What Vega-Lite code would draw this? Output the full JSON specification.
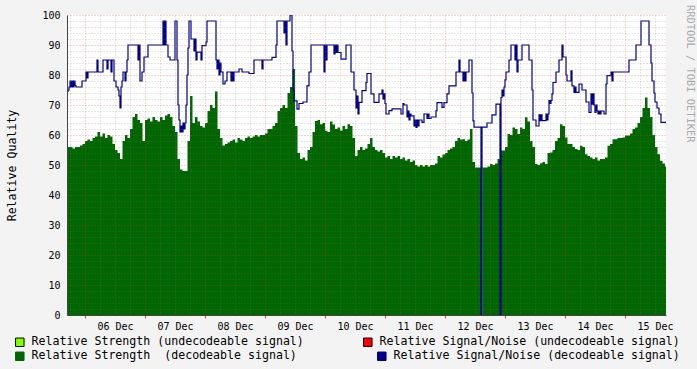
{
 "$schema": "https://vega.github.io/schema/vega-lite/v6.json",
 "width": 599,
 "height": 300,
 "autosize": {"type": "none"},
 "padding": {"left": 67, "top": 15, "right": 31, "bottom": 54},
 "background": "#f3f3f3",
 "view": {"fill": "#ffffff", "stroke": null},
 "config": {"font": "DejaVu Sans Mono"},
 "title": {"text": "RRDTOOL / TOBI OETIKER", "orient": "right", "anchor": "start", "frame": "group", "offset": 5, "dx": -10, "font": "DejaVu Sans Mono", "fontSize": 10.4, "fontWeight": "normal", "color": "#aaaaaa"},
 "datasets": {
  "strength": [
   {"t":"2023-12-05T16:48Z","v":56},{"t":"2023-12-05T17:00Z","v":56},{"t":"2023-12-05T18:00Z","v":56},{"t":"2023-12-05T19:00Z","v":55.5},{"t":"2023-12-05T20:00Z","v":56},{"t":"2023-12-05T21:00Z","v":56},{"t":"2023-12-05T22:00Z","v":56.5},{"t":"2023-12-05T23:00Z","v":57},
   {"t":"2023-12-06T00:00Z","v":58},{"t":"2023-12-06T01:00Z","v":58.5},{"t":"2023-12-06T02:00Z","v":58},{"t":"2023-12-06T03:00Z","v":59},{"t":"2023-12-06T04:00Z","v":59.5},{"t":"2023-12-06T05:00Z","v":61},{"t":"2023-12-06T06:00Z","v":59.5},{"t":"2023-12-06T07:00Z","v":60.5},{"t":"2023-12-06T08:00Z","v":59},{"t":"2023-12-06T09:00Z","v":60},{"t":"2023-12-06T10:00Z","v":59.5},{"t":"2023-12-06T11:00Z","v":57},{"t":"2023-12-06T12:00Z","v":55},{"t":"2023-12-06T13:00Z","v":54},{"t":"2023-12-06T14:00Z","v":52},{"t":"2023-12-06T15:00Z","v":58},{"t":"2023-12-06T16:00Z","v":60},{"t":"2023-12-06T17:00Z","v":59},{"t":"2023-12-06T18:00Z","v":62},{"t":"2023-12-06T19:00Z","v":66},{"t":"2023-12-06T20:00Z","v":67},{"t":"2023-12-06T21:00Z","v":65},{"t":"2023-12-06T22:00Z","v":64},{"t":"2023-12-06T23:00Z","v":58},
   {"t":"2023-12-07T00:00Z","v":65},{"t":"2023-12-07T01:00Z","v":65.5},{"t":"2023-12-07T02:00Z","v":64.5},{"t":"2023-12-07T03:00Z","v":66},{"t":"2023-12-07T04:00Z","v":65},{"t":"2023-12-07T05:00Z","v":64.5},{"t":"2023-12-07T06:00Z","v":66},{"t":"2023-12-07T07:00Z","v":65},{"t":"2023-12-07T08:00Z","v":66.5},{"t":"2023-12-07T09:00Z","v":67},{"t":"2023-12-07T10:00Z","v":66},{"t":"2023-12-07T11:00Z","v":63},{"t":"2023-12-07T12:00Z","v":61},{"t":"2023-12-07T13:00Z","v":52},{"t":"2023-12-07T14:00Z","v":48.5},{"t":"2023-12-07T15:00Z","v":48},{"t":"2023-12-07T16:00Z","v":48},{"t":"2023-12-07T17:00Z","v":58},{"t":"2023-12-07T18:00Z","v":73},{"t":"2023-12-07T19:00Z","v":64},{"t":"2023-12-07T20:00Z","v":66},{"t":"2023-12-07T21:00Z","v":64.5},{"t":"2023-12-07T22:00Z","v":63},{"t":"2023-12-07T23:00Z","v":62.5},
   {"t":"2023-12-08T00:00Z","v":64},{"t":"2023-12-08T01:00Z","v":68},{"t":"2023-12-08T02:00Z","v":70},{"t":"2023-12-08T03:00Z","v":69},{"t":"2023-12-08T04:00Z","v":74.5},{"t":"2023-12-08T05:00Z","v":62},{"t":"2023-12-08T06:00Z","v":59},{"t":"2023-12-08T07:00Z","v":56.5},{"t":"2023-12-08T08:00Z","v":57},{"t":"2023-12-08T09:00Z","v":57.5},{"t":"2023-12-08T10:00Z","v":58},{"t":"2023-12-08T11:00Z","v":58.5},{"t":"2023-12-08T12:00Z","v":57.5},{"t":"2023-12-08T13:00Z","v":59},{"t":"2023-12-08T14:00Z","v":58.5},{"t":"2023-12-08T15:00Z","v":58},{"t":"2023-12-08T16:00Z","v":59},{"t":"2023-12-08T17:00Z","v":59.5},{"t":"2023-12-08T18:00Z","v":59},{"t":"2023-12-08T19:00Z","v":59.5},{"t":"2023-12-08T20:00Z","v":60},{"t":"2023-12-08T21:00Z","v":59.5},{"t":"2023-12-08T22:00Z","v":60},{"t":"2023-12-08T23:00Z","v":60},
   {"t":"2023-12-09T00:00Z","v":60.5},{"t":"2023-12-09T01:00Z","v":62},{"t":"2023-12-09T02:00Z","v":62},{"t":"2023-12-09T03:00Z","v":63},{"t":"2023-12-09T04:00Z","v":64},{"t":"2023-12-09T05:00Z","v":68},{"t":"2023-12-09T06:00Z","v":69},{"t":"2023-12-09T07:00Z","v":70},{"t":"2023-12-09T08:00Z","v":69},{"t":"2023-12-09T09:00Z","v":74},{"t":"2023-12-09T10:00Z","v":76},{"t":"2023-12-09T11:00Z","v":82},{"t":"2023-12-09T12:00Z","v":63},{"t":"2023-12-09T13:00Z","v":54},{"t":"2023-12-09T14:00Z","v":52},{"t":"2023-12-09T15:00Z","v":52.5},{"t":"2023-12-09T16:00Z","v":51.5},{"t":"2023-12-09T17:00Z","v":55},{"t":"2023-12-09T18:00Z","v":56},{"t":"2023-12-09T19:00Z","v":61},{"t":"2023-12-09T20:00Z","v":64.7},{"t":"2023-12-09T21:00Z","v":65},{"t":"2023-12-09T22:00Z","v":63.6},{"t":"2023-12-09T23:00Z","v":64},
   {"t":"2023-12-10T00:00Z","v":61.4},{"t":"2023-12-10T01:00Z","v":61},{"t":"2023-12-10T02:00Z","v":64.5},{"t":"2023-12-10T03:00Z","v":63.5},{"t":"2023-12-10T04:00Z","v":62},{"t":"2023-12-10T05:00Z","v":62.5},{"t":"2023-12-10T06:00Z","v":61.5},{"t":"2023-12-10T07:00Z","v":63},{"t":"2023-12-10T08:00Z","v":62},{"t":"2023-12-10T09:00Z","v":63.6},{"t":"2023-12-10T10:00Z","v":63},{"t":"2023-12-10T11:00Z","v":59},{"t":"2023-12-10T12:00Z","v":53},{"t":"2023-12-10T13:00Z","v":55},{"t":"2023-12-10T14:00Z","v":56},{"t":"2023-12-10T15:00Z","v":55},{"t":"2023-12-10T16:00Z","v":55.5},{"t":"2023-12-10T17:00Z","v":57},{"t":"2023-12-10T18:00Z","v":59},{"t":"2023-12-10T19:00Z","v":56},{"t":"2023-12-10T20:00Z","v":55},{"t":"2023-12-10T21:00Z","v":54.5},{"t":"2023-12-10T22:00Z","v":55},{"t":"2023-12-10T23:00Z","v":54},
   {"t":"2023-12-11T00:00Z","v":52.5},{"t":"2023-12-11T01:00Z","v":53},{"t":"2023-12-11T02:00Z","v":52},{"t":"2023-12-11T03:00Z","v":53},{"t":"2023-12-11T04:00Z","v":52.5},{"t":"2023-12-11T05:00Z","v":53},{"t":"2023-12-11T06:00Z","v":52},{"t":"2023-12-11T07:00Z","v":52.5},{"t":"2023-12-11T08:00Z","v":51.5},{"t":"2023-12-11T09:00Z","v":52},{"t":"2023-12-11T10:00Z","v":51},{"t":"2023-12-11T11:00Z","v":51.5},{"t":"2023-12-11T12:00Z","v":50},{"t":"2023-12-11T13:00Z","v":49.5},{"t":"2023-12-11T14:00Z","v":50},{"t":"2023-12-11T15:00Z","v":49.5},{"t":"2023-12-11T16:00Z","v":50},{"t":"2023-12-11T17:00Z","v":49.5},{"t":"2023-12-11T18:00Z","v":50},{"t":"2023-12-11T19:00Z","v":50},{"t":"2023-12-11T20:00Z","v":50.5},{"t":"2023-12-11T21:00Z","v":53},{"t":"2023-12-11T22:00Z","v":52.5},{"t":"2023-12-11T23:00Z","v":53.5},
   {"t":"2023-12-12T00:00Z","v":54},{"t":"2023-12-12T01:00Z","v":55},{"t":"2023-12-12T02:00Z","v":55.5},{"t":"2023-12-12T03:00Z","v":56},{"t":"2023-12-12T04:00Z","v":58},{"t":"2023-12-12T05:00Z","v":59},{"t":"2023-12-12T06:00Z","v":58.5},{"t":"2023-12-12T07:00Z","v":58.6},{"t":"2023-12-12T08:00Z","v":58},{"t":"2023-12-12T09:00Z","v":58.5},{"t":"2023-12-12T10:00Z","v":62},{"t":"2023-12-12T11:00Z","v":51},{"t":"2023-12-12T12:00Z","v":49.2},{"t":"2023-12-12T13:00Z","v":49.2},{"t":"2023-12-12T14:00Z","v":49.2},{"t":"2023-12-12T14:24Z","v":0},{"t":"2023-12-12T15:00Z","v":49.2},{"t":"2023-12-12T16:00Z","v":49.2},{"t":"2023-12-12T17:00Z","v":49.5},{"t":"2023-12-12T18:00Z","v":50.3},{"t":"2023-12-12T19:00Z","v":50},{"t":"2023-12-12T20:00Z","v":50.5},{"t":"2023-12-12T21:00Z","v":52},{"t":"2023-12-12T22:00Z","v":0},{"t":"2023-12-12T22:24Z","v":54.8},{"t":"2023-12-12T23:00Z","v":54.8},
   {"t":"2023-12-13T00:00Z","v":56},{"t":"2023-12-13T01:00Z","v":60.3},{"t":"2023-12-13T02:00Z","v":60},{"t":"2023-12-13T03:00Z","v":62.5},{"t":"2023-12-13T04:00Z","v":62},{"t":"2023-12-13T05:00Z","v":60.3},{"t":"2023-12-13T06:00Z","v":62.5},{"t":"2023-12-13T07:00Z","v":62},{"t":"2023-12-13T08:00Z","v":65.9},{"t":"2023-12-13T09:00Z","v":64.5},{"t":"2023-12-13T10:00Z","v":58},{"t":"2023-12-13T11:00Z","v":56},{"t":"2023-12-13T12:00Z","v":50.3},{"t":"2023-12-13T13:00Z","v":50},{"t":"2023-12-13T14:00Z","v":50.6},{"t":"2023-12-13T15:00Z","v":51},{"t":"2023-12-13T16:00Z","v":50.3},{"t":"2023-12-13T17:00Z","v":54},{"t":"2023-12-13T18:00Z","v":54.2},{"t":"2023-12-13T19:00Z","v":55},{"t":"2023-12-13T20:00Z","v":58},{"t":"2023-12-13T21:00Z","v":59},{"t":"2023-12-13T22:00Z","v":63.6},{"t":"2023-12-13T23:00Z","v":63},
   {"t":"2023-12-14T00:00Z","v":59.2},{"t":"2023-12-14T01:00Z","v":57},{"t":"2023-12-14T02:00Z","v":57},{"t":"2023-12-14T03:00Z","v":56},{"t":"2023-12-14T04:00Z","v":55.3},{"t":"2023-12-14T05:00Z","v":55},{"t":"2023-12-14T06:00Z","v":56.4},{"t":"2023-12-14T07:00Z","v":56},{"t":"2023-12-14T08:00Z","v":53.6},{"t":"2023-12-14T09:00Z","v":53},{"t":"2023-12-14T10:00Z","v":52.5},{"t":"2023-12-14T11:00Z","v":52},{"t":"2023-12-14T12:00Z","v":52.5},{"t":"2023-12-14T13:00Z","v":51.5},{"t":"2023-12-14T14:00Z","v":52},{"t":"2023-12-14T15:00Z","v":52},{"t":"2023-12-14T16:00Z","v":52.5},{"t":"2023-12-14T17:00Z","v":56.4},{"t":"2023-12-14T18:00Z","v":57},{"t":"2023-12-14T19:00Z","v":58.6},{"t":"2023-12-14T20:00Z","v":58.6},{"t":"2023-12-14T21:00Z","v":59},{"t":"2023-12-14T22:00Z","v":59},{"t":"2023-12-14T23:00Z","v":59.2},
   {"t":"2023-12-15T00:00Z","v":59.8},{"t":"2023-12-15T01:00Z","v":59.8},{"t":"2023-12-15T02:00Z","v":60.5},{"t":"2023-12-15T03:00Z","v":62},{"t":"2023-12-15T04:00Z","v":62.5},{"t":"2023-12-15T05:00Z","v":64},{"t":"2023-12-15T06:00Z","v":66},{"t":"2023-12-15T07:00Z","v":69},{"t":"2023-12-15T08:00Z","v":72.5},{"t":"2023-12-15T09:00Z","v":69},{"t":"2023-12-15T10:00Z","v":66},{"t":"2023-12-15T11:00Z","v":60},{"t":"2023-12-15T12:00Z","v":56},{"t":"2023-12-15T13:00Z","v":53.6},{"t":"2023-12-15T14:00Z","v":51.4},{"t":"2023-12-15T15:00Z","v":50.5},{"t":"2023-12-15T16:00Z","v":49.5},{"t":"2023-12-15T16:24Z","v":49.5}
  ],
  "snr": [
   {"t":"2023-12-05T16:48Z","v":74.5},{"t":"2023-12-05T17:12Z","v":75},{"t":"2023-12-05T17:36Z","v":76},{"t":"2023-12-05T18:00Z","v":78},{"t":"2023-12-05T18:24Z","v":76},{"t":"2023-12-05T18:48Z","v":78},{"t":"2023-12-05T19:12Z","v":76},{"t":"2023-12-05T19:36Z","v":78},{"t":"2023-12-05T20:00Z","v":76.5},{"t":"2023-12-05T20:24Z","v":76},{"t":"2023-12-05T22:48Z","v":78},
   {"t":"2023-12-06T00:24Z","v":81},{"t":"2023-12-06T00:48Z","v":79},{"t":"2023-12-06T01:12Z","v":81},{"t":"2023-12-06T04:48Z","v":85},{"t":"2023-12-06T05:12Z","v":81},{"t":"2023-12-06T07:12Z","v":85},{"t":"2023-12-06T08:48Z","v":82},{"t":"2023-12-06T09:12Z","v":85},{"t":"2023-12-06T10:24Z","v":81},{"t":"2023-12-06T10:48Z","v":85},{"t":"2023-12-06T11:36Z","v":78},{"t":"2023-12-06T12:24Z","v":76},{"t":"2023-12-06T13:12Z","v":75},{"t":"2023-12-06T13:36Z","v":73},{"t":"2023-12-06T14:00Z","v":69},{"t":"2023-12-06T14:24Z","v":76},{"t":"2023-12-06T14:48Z","v":78},{"t":"2023-12-06T15:12Z","v":81},{"t":"2023-12-06T16:00Z","v":78},{"t":"2023-12-06T16:24Z","v":81},{"t":"2023-12-06T16:48Z","v":85},{"t":"2023-12-06T17:12Z","v":90},{"t":"2023-12-06T21:12Z","v":85},{"t":"2023-12-06T21:36Z","v":90},{"t":"2023-12-06T22:00Z","v":78},{"t":"2023-12-06T22:48Z","v":81},{"t":"2023-12-06T23:36Z","v":86},
   {"t":"2023-12-07T01:12Z","v":90},{"t":"2023-12-07T07:12Z","v":98},{"t":"2023-12-07T07:36Z","v":90},{"t":"2023-12-07T08:00Z","v":98},{"t":"2023-12-07T08:24Z","v":90},{"t":"2023-12-07T09:12Z","v":86},{"t":"2023-12-07T10:00Z","v":85},{"t":"2023-12-07T12:00Z","v":98},{"t":"2023-12-07T12:48Z","v":85},{"t":"2023-12-07T13:12Z","v":70},{"t":"2023-12-07T13:36Z","v":65},{"t":"2023-12-07T14:00Z","v":61},{"t":"2023-12-07T14:24Z","v":63},{"t":"2023-12-07T14:48Z","v":61},{"t":"2023-12-07T15:12Z","v":64},{"t":"2023-12-07T15:36Z","v":62},{"t":"2023-12-07T16:00Z","v":64},{"t":"2023-12-07T16:24Z","v":70},{"t":"2023-12-07T16:48Z","v":80},{"t":"2023-12-07T17:12Z","v":89},{"t":"2023-12-07T17:36Z","v":98},{"t":"2023-12-07T18:24Z","v":92},{"t":"2023-12-07T19:36Z","v":88},{"t":"2023-12-07T20:00Z","v":92},{"t":"2023-12-07T20:24Z","v":85},{"t":"2023-12-07T20:48Z","v":87.6},{"t":"2023-12-07T22:24Z","v":85},{"t":"2023-12-07T22:48Z","v":89.8},
   {"t":"2023-12-08T00:24Z","v":91},{"t":"2023-12-08T00:48Z","v":98},{"t":"2023-12-08T04:24Z","v":85},{"t":"2023-12-08T04:48Z","v":82},{"t":"2023-12-08T05:12Z","v":85},{"t":"2023-12-08T05:36Z","v":80},{"t":"2023-12-08T06:00Z","v":84},{"t":"2023-12-08T06:24Z","v":81},{"t":"2023-12-08T07:12Z","v":77},{"t":"2023-12-08T08:00Z","v":78},{"t":"2023-12-08T08:48Z","v":81},{"t":"2023-12-08T10:24Z","v":78},{"t":"2023-12-08T10:48Z","v":81},{"t":"2023-12-08T11:12Z","v":78},{"t":"2023-12-08T11:36Z","v":81},{"t":"2023-12-08T13:36Z","v":82},{"t":"2023-12-08T14:48Z","v":81},{"t":"2023-12-08T17:36Z","v":80.5},{"t":"2023-12-08T19:36Z","v":85},{"t":"2023-12-08T22:48Z","v":82},{"t":"2023-12-08T23:12Z","v":85},
   {"t":"2023-12-09T02:48Z","v":85.9},{"t":"2023-12-09T04:24Z","v":90},{"t":"2023-12-09T04:48Z","v":98},{"t":"2023-12-09T07:36Z","v":94},{"t":"2023-12-09T08:00Z","v":98},{"t":"2023-12-09T08:24Z","v":90},{"t":"2023-12-09T08:48Z","v":98},{"t":"2023-12-09T10:00Z","v":100},{"t":"2023-12-09T10:48Z","v":88},{"t":"2023-12-09T11:12Z","v":75},{"t":"2023-12-09T11:36Z","v":71.4},{"t":"2023-12-09T12:48Z","v":68.6},{"t":"2023-12-09T13:36Z","v":70.5},{"t":"2023-12-09T15:12Z","v":71},{"t":"2023-12-09T16:48Z","v":76.4},{"t":"2023-12-09T17:36Z","v":81},{"t":"2023-12-09T18:24Z","v":90},{"t":"2023-12-09T23:36Z","v":81},
   {"t":"2023-12-10T00:00Z","v":90},{"t":"2023-12-10T00:24Z","v":85},{"t":"2023-12-10T00:48Z","v":90},{"t":"2023-12-10T03:36Z","v":87},{"t":"2023-12-10T04:00Z","v":90},{"t":"2023-12-10T04:24Z","v":87.5},{"t":"2023-12-10T04:48Z","v":90},{"t":"2023-12-10T05:12Z","v":87.5},{"t":"2023-12-10T06:24Z","v":85.3},{"t":"2023-12-10T08:24Z","v":90},{"t":"2023-12-10T10:24Z","v":81},{"t":"2023-12-10T11:36Z","v":75},{"t":"2023-12-10T12:24Z","v":69},{"t":"2023-12-10T12:48Z","v":73},{"t":"2023-12-10T13:12Z","v":67},{"t":"2023-12-10T13:36Z","v":70.9},{"t":"2023-12-10T14:48Z","v":74.8},{"t":"2023-12-10T16:24Z","v":77.5},{"t":"2023-12-10T16:48Z","v":80.5},{"t":"2023-12-10T18:24Z","v":73.7},{"t":"2023-12-10T19:36Z","v":70.9},{"t":"2023-12-10T21:36Z","v":73.7},{"t":"2023-12-10T22:48Z","v":75},{"t":"2023-12-10T23:12Z","v":72},{"t":"2023-12-10T23:36Z","v":73.7},
   {"t":"2023-12-11T00:00Z","v":70.5},{"t":"2023-12-11T00:24Z","v":67},{"t":"2023-12-11T01:36Z","v":68.1},{"t":"2023-12-11T02:48Z","v":68.7},{"t":"2023-12-11T06:24Z","v":67},{"t":"2023-12-11T07:12Z","v":70.5},{"t":"2023-12-11T07:36Z","v":70},{"t":"2023-12-11T08:48Z","v":66},{"t":"2023-12-11T09:12Z","v":68},{"t":"2023-12-11T09:36Z","v":65},{"t":"2023-12-11T10:00Z","v":67},{"t":"2023-12-11T10:24Z","v":66.4},{"t":"2023-12-11T11:36Z","v":63},{"t":"2023-12-11T12:00Z","v":65},{"t":"2023-12-11T12:24Z","v":62.5},{"t":"2023-12-11T12:48Z","v":65},{"t":"2023-12-11T13:12Z","v":63},{"t":"2023-12-11T13:36Z","v":65},{"t":"2023-12-11T14:48Z","v":64.2},{"t":"2023-12-11T15:36Z","v":67},{"t":"2023-12-11T16:48Z","v":65.5},{"t":"2023-12-11T17:12Z","v":67},{"t":"2023-12-11T17:36Z","v":65.5},{"t":"2023-12-11T18:24Z","v":66},{"t":"2023-12-11T20:24Z","v":68.1},{"t":"2023-12-11T20:48Z","v":70.8},{"t":"2023-12-11T22:48Z","v":69.2},{"t":"2023-12-11T23:36Z","v":70.8},
   {"t":"2023-12-12T00:48Z","v":73.7},{"t":"2023-12-12T01:36Z","v":76.4},{"t":"2023-12-12T04:24Z","v":81},{"t":"2023-12-12T05:36Z","v":85},{"t":"2023-12-12T06:00Z","v":81},{"t":"2023-12-12T07:12Z","v":78},{"t":"2023-12-12T07:36Z","v":81},{"t":"2023-12-12T08:00Z","v":78},{"t":"2023-12-12T08:24Z","v":81},{"t":"2023-12-12T09:36Z","v":85},{"t":"2023-12-12T10:48Z","v":74},{"t":"2023-12-12T11:12Z","v":64.7},{"t":"2023-12-12T11:36Z","v":62.6},{"t":"2023-12-12T14:24Z","v":0},{"t":"2023-12-12T14:48Z","v":62.6},{"t":"2023-12-12T16:48Z","v":64},{"t":"2023-12-12T18:48Z","v":66.7},{"t":"2023-12-12T20:24Z","v":70.3},{"t":"2023-12-12T22:00Z","v":0},{"t":"2023-12-12T22:24Z","v":72.5},{"t":"2023-12-12T22:48Z","v":75},{"t":"2023-12-12T23:12Z","v":73},{"t":"2023-12-12T23:36Z","v":76},
   {"t":"2023-12-13T00:00Z","v":78.4},{"t":"2023-12-13T00:24Z","v":81},{"t":"2023-12-13T01:36Z","v":85},{"t":"2023-12-13T02:24Z","v":90},{"t":"2023-12-13T04:00Z","v":85},{"t":"2023-12-13T04:24Z","v":90},{"t":"2023-12-13T04:48Z","v":81},{"t":"2023-12-13T05:12Z","v":85},{"t":"2023-12-13T06:48Z","v":90},{"t":"2023-12-13T09:36Z","v":85},{"t":"2023-12-13T10:48Z","v":75},{"t":"2023-12-13T11:12Z","v":65},{"t":"2023-12-13T12:24Z","v":63},{"t":"2023-12-13T13:36Z","v":66.7},{"t":"2023-12-13T14:00Z","v":64.8},{"t":"2023-12-13T14:24Z","v":66.7},{"t":"2023-12-13T14:48Z","v":64.8},{"t":"2023-12-13T16:24Z","v":67},{"t":"2023-12-13T16:48Z","v":65},{"t":"2023-12-13T17:12Z","v":67},{"t":"2023-12-13T17:36Z","v":71.5},{"t":"2023-12-13T18:00Z","v":70.5},{"t":"2023-12-13T18:24Z","v":71.5},{"t":"2023-12-13T18:48Z","v":73.7},{"t":"2023-12-13T19:12Z","v":77.5},{"t":"2023-12-13T20:24Z","v":81},{"t":"2023-12-13T21:36Z","v":85},{"t":"2023-12-13T22:48Z","v":90},{"t":"2023-12-13T23:12Z","v":86},
   {"t":"2023-12-14T00:24Z","v":80},{"t":"2023-12-14T00:48Z","v":78},{"t":"2023-12-14T02:24Z","v":81.4},{"t":"2023-12-14T02:48Z","v":76.4},{"t":"2023-12-14T03:36Z","v":74.2},{"t":"2023-12-14T04:00Z","v":76},{"t":"2023-12-14T04:24Z","v":74.2},{"t":"2023-12-14T05:36Z","v":77},{"t":"2023-12-14T06:48Z","v":75},{"t":"2023-12-14T08:24Z","v":71},{"t":"2023-12-14T09:36Z","v":67.5},{"t":"2023-12-14T10:24Z","v":73.7},{"t":"2023-12-14T10:48Z","v":70.3},{"t":"2023-12-14T11:12Z","v":73.7},{"t":"2023-12-14T11:36Z","v":70},{"t":"2023-12-14T12:00Z","v":67.5},{"t":"2023-12-14T12:24Z","v":70},{"t":"2023-12-14T12:48Z","v":68},{"t":"2023-12-14T13:12Z","v":67},{"t":"2023-12-14T13:36Z","v":68},{"t":"2023-12-14T14:00Z","v":67},{"t":"2023-12-14T14:24Z","v":68},{"t":"2023-12-14T15:36Z","v":67},{"t":"2023-12-14T16:24Z","v":77},{"t":"2023-12-14T16:48Z","v":79.8},{"t":"2023-12-14T18:24Z","v":81},{"t":"2023-12-14T18:48Z","v":78},{"t":"2023-12-14T19:12Z","v":81},
   {"t":"2023-12-15T01:36Z","v":85},{"t":"2023-12-15T04:24Z","v":90},{"t":"2023-12-15T06:24Z","v":98},{"t":"2023-12-15T09:36Z","v":90},{"t":"2023-12-15T10:24Z","v":84},{"t":"2023-12-15T10:48Z","v":78},{"t":"2023-12-15T11:36Z","v":74},{"t":"2023-12-15T12:00Z","v":71},{"t":"2023-12-15T12:48Z","v":69},{"t":"2023-12-15T13:36Z","v":67},{"t":"2023-12-15T14:24Z","v":64.2},{"t":"2023-12-15T16:24Z","v":64.2}
  ]
 },
 "layer": [
  {
   "data": {"name": "strength"},
   "mark": {"type": "area", "interpolate": "step-after", "clip": true},
   "encoding": {
    "x": {"field": "t", "type": "temporal",
     "scale": {"type": "utc", "domain": [1701794880000, 1702657440000], "nice": false},
     "axis": {
      "title": null, "zindex": 1, "tickCount": 200,
      "values": [1701799200000,1701820800000,1701842400000,1701864000000,1701885600000,1701907200000,1701928800000,1701950400000,1701972000000,1701993600000,1702015200000,1702036800000,1702058400000,1702080000000,1702101600000,1702123200000,1702144800000,1702166400000,1702188000000,1702209600000,1702231200000,1702252800000,1702274400000,1702296000000,1702317600000,1702339200000,1702360800000,1702382400000,1702404000000,1702425600000,1702447200000,1702468800000,1702490400000,1702512000000,1702533600000,1702555200000,1702576800000,1702598400000,1702620000000,1702641600000],
      "labelExpr": "utchours(datum.value) == 12 ? utcFormat(datum.value, '%d %b') : ''",
      "labelOverlap": false, "labelFlush": false,
      "labelFont": "DejaVu Sans Mono", "labelFontSize": 10, "labelColor": "#000000", "labelPadding": 3,
      "grid": true, "gridDash": [1, 2],
      "gridColor": {"condition": {"test": "utchours(datum.value) == 0", "value": "rgba(230,60,60,0.45)"}, "value": "rgba(120,120,120,0.35)"},
      "ticks": true, "tickSize": 3,
      "tickColor": {"condition": {"test": "utchours(datum.value) == 0", "value": "#d04040"}, "value": "rgba(0,0,0,0)"},
      "domainColor": "#444444"
     }
    },
    "y": {"field": "v", "type": "quantitative",
     "scale": {"domain": [0, 100], "nice": false},
     "axis": {
      "title": "Relative Quality", "titleFont": "DejaVu Sans Mono", "titleFontSize": 11.6, "titleFontWeight": "normal", "titleColor": "#000000", "titlePadding": 24,
      "zindex": 1, "tickCount": 200, "format": "d",
      "values": [0,2,4,6,8,10,12,14,16,18,20,22,24,26,28,30,32,34,36,38,40,42,44,46,48,50,52,54,56,58,60,62,64,66,68,70,72,74,76,78,80,82,84,86,88,90,92,94,96,98,100],
      "labelExpr": "datum.value % 10 == 0 ? datum.label : ''",
      "labelOverlap": false, "labelFlush": false,
      "labelFont": "DejaVu Sans Mono", "labelFontSize": 10, "labelColor": "#000000", "labelPadding": 7,
      "ticks": false,
      "grid": true, "gridDash": [1, 2],
      "gridColor": {"condition": {"test": "datum.value % 10 == 0", "value": "rgba(230,60,60,0.45)"}, "value": "rgba(120,120,120,0.35)"},
      "domainColor": "#444444"
     }
    },
    "color": {"datum": "Relative Strength\u00a0 (decodeable signal)", "type": "nominal",
     "scale": {"domain": ["Relative Strength\u00a0 (decodeable signal)", "Relative Signal/Noise (decodeable signal)"], "range": ["#006600", "#000088"]},
     "legend": {"title": null, "orient": "none", "legendX": -53, "legendY": 335, "direction": "horizontal", "columnPadding": 78,
      "padding": 0, "symbolType": "square", "symbolSize": 72, "symbolStrokeColor": "#000000", "symbolStrokeWidth": 1, "symbolOpacity": 1,
      "labelFont": "DejaVu Sans Mono", "labelFontSize": 11.6, "labelColor": "#000000", "labelOffset": 6, "labelLimit": 0,
      "encode": {"symbols": {"update": {"fill": {"scale": "color", "field": "value"}, "stroke": {"value": "#000000"}, "strokeWidth": {"value": 1}, "opacity": {"value": 1}}}}}
    }
   }
  },
  {
   "data": {"name": "snr"},
   "mark": {"type": "line", "interpolate": "step-after", "strokeWidth": 1.2, "clip": true},
   "encoding": {
    "x": {"field": "t", "type": "temporal"},
    "y": {"field": "v", "type": "quantitative"},
    "color": {"datum": "Relative Signal/Noise (decodeable signal)", "type": "nominal"}
   }
  },
  {
   "data": {"values": [{"s": "Relative Strength (undecodeable signal)"}, {"s": "Relative Signal/Noise (undecodeable signal)"}]},
   "mark": {"type": "square", "opacity": 0},
   "encoding": {
    "fill": {"field": "s", "type": "nominal",
     "scale": {"domain": ["Relative Strength (undecodeable signal)", "Relative Signal/Noise (undecodeable signal)"], "range": ["#7fff00", "#ff0000"]},
     "legend": {"title": null, "orient": "none", "legendX": -53, "legendY": 321, "direction": "horizontal", "columnPadding": 57,
      "padding": 0, "symbolType": "square", "symbolSize": 72, "symbolStrokeColor": "#000000", "symbolStrokeWidth": 1, "symbolOpacity": 1,
      "labelFont": "DejaVu Sans Mono", "labelFontSize": 11.6, "labelColor": "#000000", "labelOffset": 6, "labelLimit": 0,
      "encode": {"symbols": {"update": {"fill": {"scale": "fill", "field": "value"}, "stroke": {"value": "#000000"}, "strokeWidth": {"value": 1}, "opacity": {"value": 1}}}}}
    }
   }
  }
 ]
}
